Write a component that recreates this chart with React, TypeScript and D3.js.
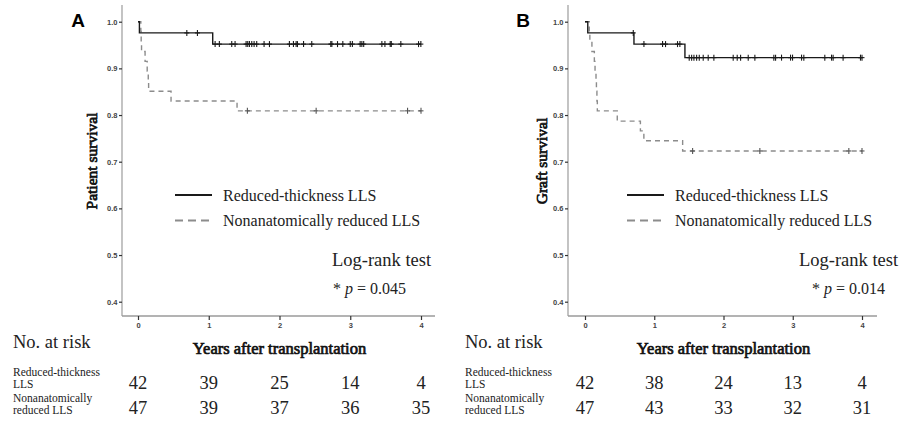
import React, { useEffect, useRef } from "react";
import * as d3 from "d3";

const yearTicks = [0, 1, 2, 3, 4];
const survivalTicks = [0.4, 0.5, 0.6, 0.7, 0.8, 0.9, 1.0];
const groupNames = ["Reduced-thickness LLS", "Nonanatomically reduced LLS"];
const riskRowLabels = [["Reduced-thickness", "LLS"], ["Nonanatomically", "reduced LLS"]];

// Panel A: patient survival. Steps are [years, survival after the step]
const patientThickSteps = [[0, 1], [0.02, 0.976], [1.056, 0.952], [4, 0.952]];
const patientThickCensored = [0.69, 0.84, 1.09, 1.15, 1.325, 1.372, 1.528, 1.551, 1.575, 1.608, 1.641, 1.678, 1.782, 1.858,
  2.14, 2.197, 2.235, 2.254, 2.34, 2.456, 2.725, 2.74, 2.82, 2.895, 3.0, 3.03, 3.14, 3.164, 3.19,
  3.447, 3.49, 3.565, 3.58, 3.715, 3.965, 3.998];
const patientNonSteps = [[0, 1], [0.04, 0.979], [0.045, 0.957], [0.05, 0.936], [0.1, 0.915], [0.13, 0.894],
  [0.145, 0.872], [0.15, 0.851], [0.467, 0.83], [1.4, 0.809], [4, 0.809]];
const patientNonCensored = [1.546, 2.518, 3.81, 4.0];
const patientRiskThick = [42, 39, 25, 14, 4];
const patientRiskNon = [47, 39, 37, 36, 35];

// Panel B: graft survival
const graftThickSteps = [[0, 1], [0.04, 0.976], [0.707, 0.952], [1.443, 0.923], [4, 0.923]];
const graftThickCensored = [0.697, 0.851, 1.12, 1.163, 1.336, 1.37, 1.505, 1.54, 1.573, 1.612, 1.65, 1.707, 1.779, 1.861,
  2.14, 2.198, 2.247, 2.357, 2.453, 2.727, 2.752, 2.838, 2.968, 2.997, 3.127, 3.16, 3.463, 3.56, 3.583, 3.727, 3.978, 4.0];
const graftNonSteps = [[0, 1], [0.062, 0.979], [0.07, 0.957], [0.1, 0.936], [0.135, 0.915], [0.145, 0.894],
  [0.159, 0.872], [0.165, 0.851], [0.172, 0.83], [0.178, 0.809], [0.466, 0.787], [0.8, 0.766], [0.85, 0.745],
  [1.41, 0.723], [4, 0.723]];
const graftNonCensored = [1.554, 2.525, 3.81, 4.0];
const graftRiskThick = [42, 38, 24, 13, 4];
const graftRiskNon = [47, 43, 33, 32, 31];

const panels = [
  {
    letter: "A", yTitle: "Patient survival", pValue: "0.045",
    thick: patientThickSteps, thickCens: patientThickCensored,
    non: patientNonSteps, nonCens: patientNonCensored,
    risk: [patientRiskThick, patientRiskNon],
    ox: 0, axisX: 122, x0: 138, x4: 421, axisEnd: 435, titleX: 92, letterX: 78, logX: 332, pX: 333,
  },
  {
    letter: "B", yTitle: "Graft survival", pValue: "0.014",
    thick: graftThickSteps, thickCens: graftThickCensored,
    non: graftNonSteps, nonCens: graftNonCensored,
    risk: [graftRiskThick, graftRiskNon],
    ox: 452, axisX: 568, x0: 585, x4: 862, axisEnd: 877, titleX: 542, letterX: 523, logX: 799, pX: 812,
  },
];

const SERIF = "'Liberation Serif', 'Times New Roman', serif";
const SANS = "'Liberation Sans', Arial, sans-serif";

const stepValue = (steps, t) => {
  let v = steps[0][1];
  steps.forEach((s) => { if (s[0] <= t) v = s[1]; });
  return v;
};

// serif bold drawn as regular glyphs with a thin outline
const boldSerif = (sel) => sel.attr("font-family", SERIF).attr("font-weight", "normal")
  .attr("fill", "#111").attr("stroke", "#111").attr("stroke-width", 0.7);

export default function App() {
  const ref = useRef(null);

  useEffect(() => {
    const svg = d3.select(ref.current);
    svg.selectAll("*").remove();

    const y = d3.scaleLinear().domain([0.4, 1.0]).range([301.7, 21.7]);
    const axisY = 316;

    panels.forEach((p) => {
      const g = svg.append("g");
      const x = d3.scaleLinear().domain([0, 4]).range([p.x0, p.x4]);

      // axis lines
      g.append("line").attr("x1", p.axisX).attr("x2", p.axisX).attr("y1", 5).attr("y2", axisY)
        .attr("stroke", "#b5b5b5").attr("stroke-width", 1.6);
      g.append("line").attr("x1", p.axisX).attr("x2", p.axisEnd).attr("y1", axisY).attr("y2", axisY)
        .attr("stroke", "#9a9a9a").attr("stroke-width", 1.6);

      const yAxis = g.append("g").attr("transform", `translate(${p.axisX},0)`)
        .call(d3.axisLeft(y).tickValues(survivalTicks).tickSize(3).tickFormat(d3.format(".1f")));
      yAxis.select(".domain").remove();
      yAxis.selectAll("line").attr("stroke", "#333").attr("stroke-width", 1.2);
      yAxis.selectAll("text").attr("font-family", SANS).attr("font-size", 7.5).attr("font-weight", "bold")
        .attr("fill", "#444").attr("x", -4.5);

      const xAxis = g.append("g").attr("transform", `translate(0,${axisY})`)
        .call(d3.axisBottom(x).tickValues(yearTicks).tickSize(4).tickFormat(d3.format("d")));
      xAxis.select(".domain").remove();
      xAxis.selectAll("line").attr("stroke", "#333").attr("stroke-width", 1.2);
      xAxis.selectAll("text").attr("font-family", SANS).attr("font-size", 7.5).attr("font-weight", "bold")
        .attr("fill", "#444").attr("y", 7);

      // curves
      const line = d3.line().curve(d3.curveStepAfter).x((d) => x(d[0])).y((d) => y(d[1]));
      g.append("path").attr("d", line(p.non)).attr("fill", "none").attr("stroke", "#8c8c8c")
        .attr("stroke-width", 1.4).attr("stroke-dasharray", "5,4");
      g.append("path").attr("d", line(p.thick)).attr("fill", "none").attr("stroke", "#1a1a1a")
        .attr("stroke-width", 1.4);

      const drawCensors = (times, steps, color) => {
        times.forEach((t) => {
          const cx = x(t), cy = y(stepValue(steps, t));
          g.append("line").attr("x1", cx).attr("x2", cx).attr("y1", cy - 3).attr("y2", cy + 3)
            .attr("stroke", color).attr("stroke-width", 1.1);
          g.append("line").attr("x1", cx - 2.5).attr("x2", cx + 2.5).attr("y1", cy).attr("y2", cy)
            .attr("stroke", color).attr("stroke-width", 1.1);
        });
      };
      drawCensors(p.nonCens, p.non, "#555");
      drawCensors(p.thickCens, p.thick, "#1a1a1a");

      // panel letter and axis titles
      g.append("text").attr("x", p.letterX).attr("y", 27).attr("text-anchor", "middle")
        .attr("font-family", SANS).attr("font-weight", "bold").attr("font-size", 19).text(p.letter);
      g.append("text").attr("transform", `translate(${p.titleX},161) rotate(-90)`).attr("dy", "0.35em")
        .attr("text-anchor", "middle").attr("font-size", 15.5).call(boldSerif).text(p.yTitle);
      g.append("text").attr("x", x(2)).attr("y", 348).attr("dy", "0.35em").attr("text-anchor", "middle")
        .attr("font-size", 16.5).call(boldSerif).text("Years after transplantation");

      // legend
      const lx = p.ox + 175;
      [0, 1].forEach((i) => {
        const ly = 195 + i * 25.5;
        g.append("line").attr("x1", lx).attr("x2", lx + 37).attr("y1", ly).attr("y2", ly)
          .attr("stroke", i === 0 ? "#1a1a1a" : "#8c8c8c").attr("stroke-width", 2)
          .attr("stroke-dasharray", i === 0 ? null : "8,5");
        g.append("text").attr("x", lx + 48).attr("y", ly).attr("dy", "0.35em")
          .attr("font-family", SERIF).attr("font-size", 16).attr("fill", "#222").text(groupNames[i]);
      });

      g.append("text").attr("x", p.logX).attr("y", 260).attr("dy", "0.35em")
        .attr("font-family", SERIF).attr("font-size", 18.5).attr("fill", "#222").text("Log-rank test");
      const pt = g.append("text").attr("x", p.pX).attr("y", 288).attr("dy", "0.35em")
        .attr("font-family", SERIF).attr("font-size", 16).attr("fill", "#222");
      pt.append("tspan").text("* ");
      pt.append("tspan").attr("font-style", "italic").text("p");
      pt.append("tspan").text(` = ${p.pValue}`);

      // risk table
      g.append("text").attr("x", p.ox + 13).attr("y", 342).attr("dy", "0.35em")
        .attr("font-family", SERIF).attr("font-size", 18.5).attr("fill", "#222").text("No. at risk");
      const labelRows = [[371.5, 383.5], [397.5, 409.5]];
      [0, 1].forEach((r) => {
        const cy = 383 + r * 25;
        const lt = g.append("text").attr("font-family", SERIF).attr("font-size", 11.5).attr("fill", "#222");
        riskRowLabels[r].forEach((lab, k) => {
          lt.append("tspan").attr("x", p.ox + 13).attr("y", labelRows[r][k]).attr("dy", "0.35em").text(lab);
        });
        p.risk[r].forEach((n, k) => {
          g.append("text").attr("x", x(yearTicks[k])).attr("y", cy).attr("dy", "0.35em")
            .attr("text-anchor", "middle").attr("font-family", SERIF).attr("font-size", 18.5)
            .attr("fill", "#222").text(n);
        });
      });
    });
  }, []);

  return (
    <svg ref={ref} width={911} height={426}
      style={{ position: "absolute", left: 0, top: 0, background: "#fff" }} />
  );
}
